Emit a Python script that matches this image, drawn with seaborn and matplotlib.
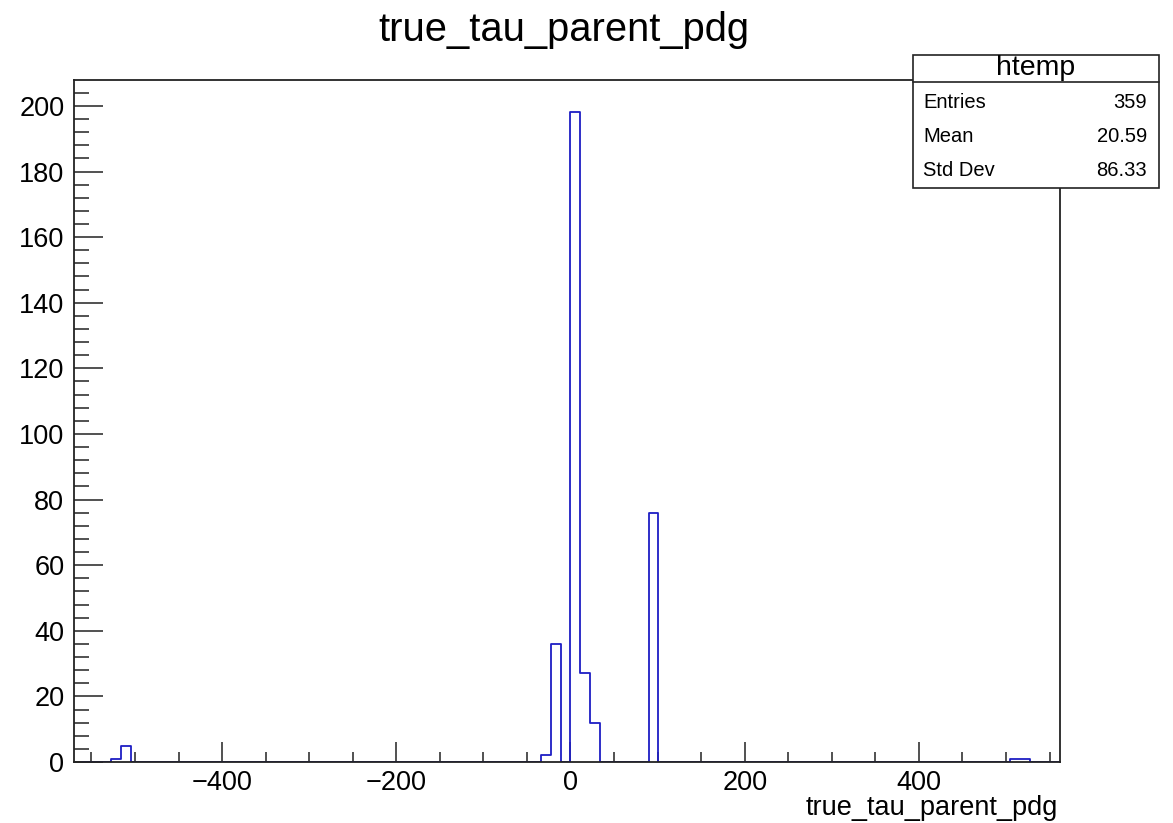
import numpy as np
import pandas as pd
import matplotlib
matplotlib.use("Agg")
import matplotlib.pyplot as plt
import seaborn as sns
from matplotlib.ticker import MultipleLocator
from matplotlib.patches import Rectangle
from matplotlib.lines import Line2D

# ---------------- data ----------------
title = "true_tau_parent_pdg"
bin_width = 11.22
n_bins_half = 50
# left edges of the non-empty bins and their counts
bin_left = [-527.3, -516.1, -33.7, -22.4, 0.0, 11.2, 22.4, 89.8, 504.9, 516.1]
counts = [1, 5, 2, 36, 198, 27, 12, 76, 1, 1]
stat_title = "htemp"
stat_names = ["Entries", "Mean", "Std Dev"]
stat_values = ["359", "20.59", "86.33"]
x_limits = (-570, 562)
y_max = 207.9

# ---------------- style ----------------
sns.set_style("ticks")
plt.rcParams["font.family"] = ["Liberation Sans", "DejaVu Sans"]
plt.rcParams["axes.unicode_minus"] = True
plt.rcParams["text.color"] = "black"
plt.rcParams["xtick.labelcolor"] = "black"
plt.rcParams["ytick.labelcolor"] = "black"

W, H = 1173, 823
fig = plt.figure(figsize=(W / 100, H / 100), dpi=100)
fig.patch.set_facecolor("white")

L, R, T, B = 74, 1060, 80, 762
ax = fig.add_axes([L / W, 1 - B / H, (R - L) / W, (B - T) / H])
ax.set_facecolor("white")

edges = [float(k * bin_width) for k in range(-n_bins_half, n_bins_half + 1)]
df = pd.DataFrame({"x": np.array(bin_left) + bin_width / 2,
                   "w": np.array(counts, dtype=float)})
sns.histplot(data=df, x="x", weights="w", bins=edges, element="step", fill=False,
             color="#1e1ec4", linewidth=1.3, ax=ax)

ax.set_xlim(*x_limits)
ax.set_ylim(0, y_max)
ax.set_xlabel("")
ax.set_ylabel("")

for sp in ax.spines.values():
    sp.set_visible(True)
    sp.set_color("#222222")
    sp.set_linewidth(1.3)
    sp.set_zorder(5)

ax.xaxis.set_major_locator(MultipleLocator(200))
ax.xaxis.set_minor_locator(MultipleLocator(50))
ax.yaxis.set_major_locator(MultipleLocator(20))
ax.yaxis.set_minor_locator(MultipleLocator(4))
ax.tick_params(axis="x", which="major", direction="in", length=14.5, width=1.1,
               color="#222222", labelcolor="black", labelsize=19.5, pad=6, top=False)
ax.tick_params(axis="x", which="minor", direction="in", length=7.2, width=1.1,
               color="#222222", top=False)
ax.tick_params(axis="y", which="major", direction="in", length=21, width=1.1,
               color="#222222", labelcolor="black", labelsize=19.5, pad=7, right=False)
ax.tick_params(axis="y", which="minor", direction="in", length=10.5, width=1.1,
               color="#222222", right=False)

# title and axis label
fig.text(564 / W, 1 - 30 / H, title, ha="center", va="center", fontsize=28.7, color="black")
fig.text(1058 / W, 1 - 808 / H, title, ha="right", va="center", fontsize=19.5, color="black")

# stats box
bx0, bx1, by0, by1, bsep = 913, 1159, 55, 188, 82
fig.add_artist(Rectangle((bx0 / W, 1 - by1 / H), (bx1 - bx0) / W, (by1 - by0) / H,
                         transform=fig.transFigure, facecolor="white",
                         edgecolor="#222222", linewidth=1.2, zorder=10))
fig.add_artist(Line2D([bx0 / W, bx1 / W], [1 - bsep / H, 1 - bsep / H],
                      transform=fig.transFigure, color="#222222", linewidth=1.2, zorder=11))
fig.text((bx0 + bx1) / 2 / W, 1 - 68 / H, stat_title, ha="center", va="center",
         fontsize=20.5, zorder=12, color="black")
row_y = [102, 136, 170]
for name, val, yy in zip(stat_names, stat_values, row_y):
    fig.text(923 / W, 1 - yy / H, name, ha="left", va="center", fontsize=14.5,
             zorder=12, color="black")
    fig.text(1147 / W, 1 - yy / H, val, ha="right", va="center", fontsize=14.5,
             zorder=12, color="black")

fig.savefig("out.png", dpi=100)
